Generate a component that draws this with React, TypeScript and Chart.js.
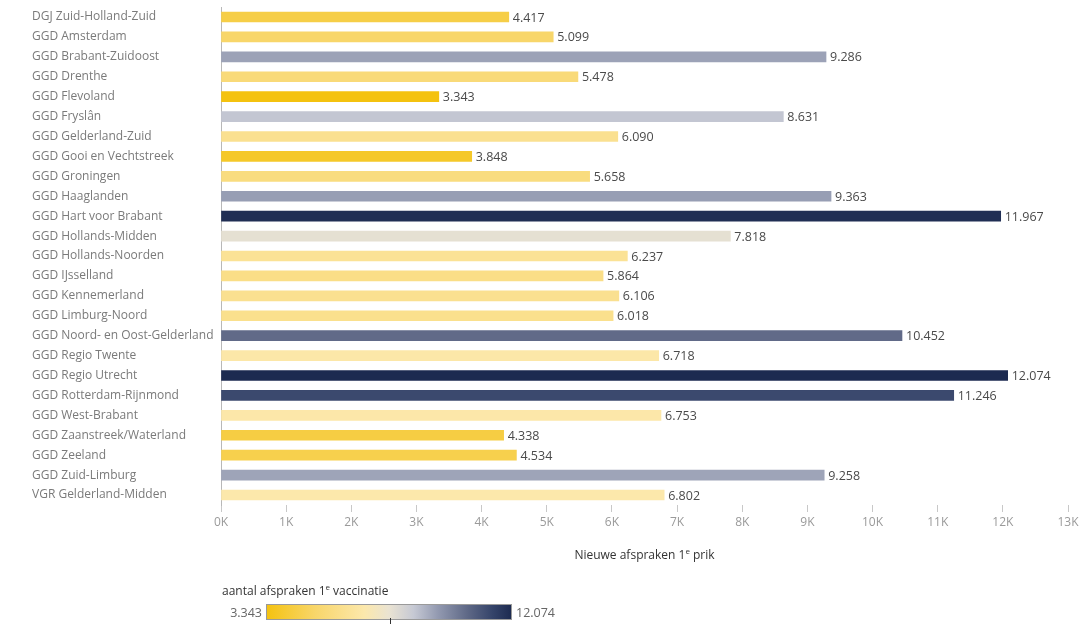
import React, { useEffect, useRef } from "react";
import { Chart, registerables } from "chart.js";

Chart.register(...registerables);

const categories: string[] = [
  "DGJ Zuid-Holland-Zuid",
  "GGD Amsterdam",
  "GGD Brabant-Zuidoost",
  "GGD Drenthe",
  "GGD Flevoland",
  "GGD Fryslân",
  "GGD Gelderland-Zuid",
  "GGD Gooi en Vechtstreek",
  "GGD Groningen",
  "GGD Haaglanden",
  "GGD Hart voor Brabant",
  "GGD Hollands-Midden",
  "GGD Hollands-Noorden",
  "GGD IJsselland",
  "GGD Kennemerland",
  "GGD Limburg-Noord",
  "GGD Noord- en Oost-Gelderland",
  "GGD Regio Twente",
  "GGD Regio Utrecht",
  "GGD Rotterdam-Rijnmond",
  "GGD West-Brabant",
  "GGD Zaanstreek/Waterland",
  "GGD Zeeland",
  "GGD Zuid-Limburg",
  "VGR Gelderland-Midden",
];

const afspraken: number[] = [
  4417, 5099, 9286, 5478, 3343, 8631, 6090, 3848, 5658, 9363, 11967, 7818,
  6237, 5864, 6106, 6018, 10452, 6718, 12074, 11246, 6753, 4338, 4534, 9258,
  6802,
];

const xTickValues: number[] = [0, 1000, 2000, 3000, 4000, 5000, 6000, 7000, 8000, 9000, 10000, 11000, 12000, 13000];

const colorStops: [number, string][] = [
  [0, "#F4C20F"],
  [0.2, "#F8D66A"],
  [0.4, "#FCE8AC"],
  [0.5, "#EAE3D2"],
  [0.6, "#C6C9D4"],
  [0.7, "#9299B0"],
  [0.82, "#5E6886"],
  [0.92, "#35446A"],
  [1, "#1C2A50"],
];

function hexToRgb(h: string): number[] {
  const n = parseInt(h.slice(1), 16);
  return [(n >> 16) & 255, (n >> 8) & 255, n & 255];
}

function colorFor(v: number, min: number, max: number): string {
  const t = Math.max(0, Math.min(1, (v - min) / (max - min)));
  for (let i = 1; i < colorStops.length; i++) {
    const [t1, c1] = colorStops[i];
    const [t0, c0] = colorStops[i - 1];
    if (t <= t1) {
      const f = (t - t0) / (t1 - t0);
      const a = hexToRgb(c0);
      const b = hexToRgb(c1);
      const r = a.map((x, k) => Math.round(x + (b[k] - x) * f));
      return `rgb(${r[0]},${r[1]},${r[2]})`;
    }
  }
  return colorStops[colorStops.length - 1][1];
}

function fmt(v: number): string {
  return v.toString().replace(/\B(?=(\d{3})+(?!\d))/g, ".");
}

const FONT = "'Open Sans', 'DejaVu Sans', sans-serif";

export default function App() {
  const ref = useRef<HTMLCanvasElement | null>(null);

  useEffect(() => {
    if (!ref.current) return;
    const minV = Math.min(...afspraken);
    const maxV = Math.max(...afspraken);
    const colors = afspraken.map((v) => colorFor(v, minV, maxV));

    const extras = {
      id: "extras",
      afterDatasetsDraw(chart: any) {
        const ctx = chart.ctx;
        const meta = chart.getDatasetMeta(0);
        ctx.save();
        ctx.font = `12.5px ${FONT}`;
        ctx.fillStyle = "#4a4a4a";
        ctx.textAlign = "left";
        ctx.textBaseline = "middle";
        meta.data.forEach((bar: any, i: number) => {
          ctx.fillText(fmt(afspraken[i]), bar.x + 4, bar.y + 1);
        });
        ctx.restore();
      },
      afterDraw(chart: any) {
        const ctx = chart.ctx;
        const area = chart.chartArea;
        ctx.save();
        const drawSup = (parts: [string, boolean][], x: number, y: number, align: string) => {
          let total = 0;
          const widths = parts.map(([s, sup]) => {
            ctx.font = sup ? `8px ${FONT}` : `12px ${FONT}`;
            const w = ctx.measureText(s).width;
            total += w;
            return w;
          });
          let cx = align === "center" ? x - total / 2 : x;
          ctx.textAlign = "left";
          ctx.textBaseline = "middle";
          parts.forEach(([s, sup], i) => {
            ctx.font = sup ? `8px ${FONT}` : `12px ${FONT}`;
            ctx.fillText(s, cx, sup ? y - 4 : y);
            cx += widths[i];
          });
        };
        ctx.fillStyle = "#333";
        drawSup(
          [["Nieuwe afspraken 1", false], ["e", true], [" prik", false]],
          (area.left + area.right) / 2,
          556,
          "center"
        );
        drawSup(
          [["aantal afspraken 1", false], ["e", true], [" vaccinatie", false]],
          222,
          592,
          "left"
        );
        const gx0 = 266, gx1 = 512, gy = 604, gh = 16;
        const grad = ctx.createLinearGradient(gx0, 0, gx1, 0);
        colorStops.forEach(([t, c]) => grad.addColorStop(t, c));
        ctx.fillStyle = grad;
        ctx.fillRect(gx0, gy, gx1 - gx0, gh);
        ctx.strokeStyle = "#9a9a9a";
        ctx.lineWidth = 1;
        ctx.strokeRect(gx0 + 0.5, gy + 0.5, gx1 - gx0 - 1, gh - 1);
        ctx.strokeStyle = "#333";
        ctx.beginPath();
        ctx.moveTo(390.5, gy + gh - 2);
        ctx.lineTo(390.5, 624);
        ctx.stroke();
        ctx.font = `12.5px ${FONT}`;
        ctx.fillStyle = "#666";
        ctx.textBaseline = "middle";
        ctx.textAlign = "right";
        ctx.fillText(fmt(minV), gx0 - 4, gy + gh / 2 + 1);
        ctx.textAlign = "left";
        ctx.fillText(fmt(maxV), gx1 + 4, gy + gh / 2 + 1);
        ctx.restore();
      },
    };

    const chart = new Chart(ref.current, {
      type: "bar",
      data: {
        labels: categories,
        datasets: [
          {
            data: afspraken,
            backgroundColor: colors,
            borderWidth: 0,
            barThickness: 10,
          },
        ],
      },
      options: {
        indexAxis: "y",
        responsive: false,
        animation: false,
        layout: { padding: { left: 32, right: 18, top: 7, bottom: 0 } },
        plugins: {
          legend: { display: false },
          tooltip: { enabled: false },
        },
        scales: {
          x: {
            min: 0,
            max: 13000,
            afterBuildTicks: (scale: any) => {
              scale.ticks = xTickValues.map((v) => ({ value: v }));
            },
            afterFit: (scale: any) => {
              scale.height = 119;
              scale.paddingLeft = 0;
              scale.paddingRight = 0;
            },
            grid: {
              drawOnChartArea: false,
              drawTicks: true,
              tickLength: 7,
              color: "#c8c8c8",
            },
            border: { display: false },
            ticks: {
              padding: 3,
              color: "#9a9a9a",
              font: { family: FONT, size: 12 },
              callback: (v: any) => `${Number(v) / 1000}K`,
            },
          },
          y: {
            afterFit: (scale: any) => {
              scale.width = 189;
              scale.paddingTop = 0;
              scale.paddingBottom = 0;
            },
            grid: { drawOnChartArea: false, drawTicks: false },
            border: { display: true, color: "#b8b8b8" },
            ticks: {
              crossAlign: "far",
              padding: 4,
              color: "#7a7a7a",
              font: { family: FONT, size: 12 },
              autoSkip: false,
            },
          },
        },
      },
      plugins: [extras],
    } as any);
    return () => chart.destroy();
  }, []);

  return (
    <div style={{ position: "absolute", left: 0, top: 0, width: 1086, height: 624, background: "#fff" }}>
      <canvas ref={ref} width={1086} height={624} />
    </div>
  );
}
